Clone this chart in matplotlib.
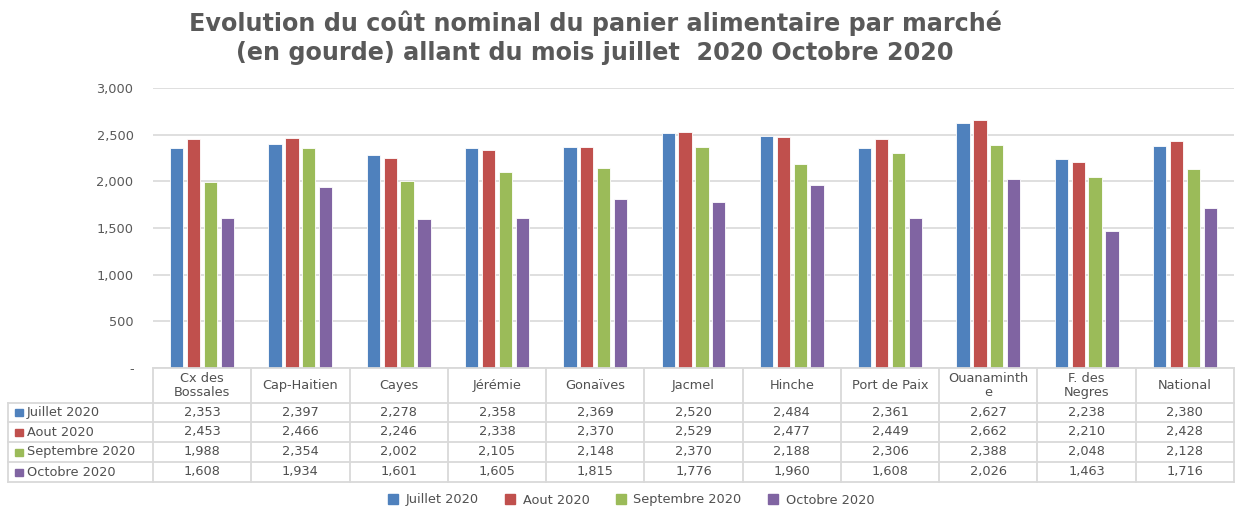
import matplotlib
matplotlib.use("Agg")
import matplotlib.pyplot as plt
from matplotlib.lines import Line2D
from matplotlib.patches import Rectangle
import numpy as np

plt.rcParams['font.family'] = ['DejaVu Sans']

markets = ["Cx des\nBossales", "Cap-Haitien", "Cayes", "Jérémie", "Gonaïves", "Jacmel",
           "Hinche", "Port de Paix", "Ouanaminth\ne", "F. des\nNegres", "National"]
series_names = ["Juillet 2020", "Aout 2020", "Septembre 2020", "Octobre 2020"]
juillet = [2353, 2397, 2278, 2358, 2369, 2520, 2484, 2361, 2627, 2238, 2380]
aout = [2453, 2466, 2246, 2338, 2370, 2529, 2477, 2449, 2662, 2210, 2428]
septembre = [1988, 2354, 2002, 2105, 2148, 2370, 2188, 2306, 2388, 2048, 2128]
octobre = [1608, 1934, 1601, 1605, 1815, 1776, 1960, 1608, 2026, 1463, 1716]
yticks = [0, 500, 1000, 1500, 2000, 2500, 3000]
ytick_labels = ["-", "500", "1,000", "1,500", "2,000", "2,500", "3,000"]
title = "Evolution du coût nominal du panier alimentaire par marché\n(en gourde) allant du mois juillet  2020 Octobre 2020"

series = [juillet, aout, septembre, octobre]
colors = ["#4F81BD", "#C0504D", "#9BBB59", "#8064A2"]
txt_col = "#505050"
grid_col = "#D9D9D9"
fs = 9.3

W, H = 1239, 508
fig = plt.figure(figsize=(W / 100, H / 100), dpi=100)
x0, x1, ytop, ybot = 153, 1234, 88, 368
ax = fig.add_axes([x0 / W, 1 - ybot / H, (x1 - x0) / W, (ybot - ytop) / H])

n = len(markets)
x = np.arange(n)
bw = 0.135
step = 0.172
for i, (vals, c) in enumerate(zip(series, colors)):
    ax.bar(x + (i - 1.5) * step, vals, width=bw, color=c, edgecolor="white",
           linewidth=0.6, zorder=3)

ax.set_xlim(-0.5, n - 0.5)
ax.set_ylim(0, 3000)
ax.set_yticks(yticks)
ax.set_yticklabels(ytick_labels, fontsize=fs, color="#595959")
ax.tick_params(axis="y", length=0, pad=14)
ax.tick_params(axis="x", length=0, labelbottom=False)
ax.grid(axis="y", color=grid_col, linewidth=1.2, zorder=0)
for s in ax.spines.values():
    s.set_visible(False)

fig.suptitle(title, fontsize=17.2, fontweight="bold", color="#595959",
             x=595 / W, y=1 - 10 / H, va="top", linespacing=1.3)

# ---- data table drawn in pixel coordinates ----
def fx(px):
    return px / W

def fy(py):
    return 1 - py / H

row_bounds = [368, 403, 422, 442, 462, 482]
left_lbl = 8
colw = (x1 - x0) / n
line_kw = dict(color=grid_col, linewidth=1.3, transform=fig.transFigure)

fig.add_artist(Line2D([fx(x0), fx(x1)], [fy(row_bounds[0])] * 2, **line_kw))
for yb in row_bounds[1:]:
    fig.add_artist(Line2D([fx(left_lbl), fx(x1)], [fy(yb)] * 2, **line_kw))
fig.add_artist(Line2D([fx(left_lbl)] * 2, [fy(row_bounds[1]), fy(row_bounds[-1])], **line_kw))
for j in range(n + 1):
    xp = x0 + j * colw
    fig.add_artist(Line2D([fx(xp)] * 2, [fy(row_bounds[0]), fy(row_bounds[-1])], **line_kw))

hy = (row_bounds[0] + row_bounds[1]) / 2
for j, m in enumerate(markets):
    fig.text(fx(x0 + (j + 0.5) * colw), fy(hy), m, ha="center", va="center",
             fontsize=fs, color=txt_col, linespacing=1.05)

for r, (name, vals, c) in enumerate(zip(series_names, series, colors)):
    cy = (row_bounds[r + 1] + row_bounds[r + 2]) / 2
    fig.add_artist(Rectangle((fx(15), fy(cy + 3.5)), 8 / W, 7 / H, color=c,
                             transform=fig.transFigure))
    fig.text(fx(27), fy(cy), name, ha="left", va="center", fontsize=fs, color=txt_col)
    for j, v in enumerate(vals):
        fig.text(fx(x0 + (j + 0.5) * colw), fy(cy), f"{v:,}", ha="center",
                 va="center", fontsize=fs, color=txt_col)

handles = [Line2D([], [], marker="s", linestyle="none", markersize=6.5,
                  markerfacecolor=c, markeredgecolor=c) for c in colors]
fig.legend(handles, series_names, loc="center", bbox_to_anchor=(627 / W, fy(500)),
           ncol=4, frameon=False, fontsize=fs, handletextpad=0.0, columnspacing=1.4,
           labelcolor=txt_col)

fig.savefig("out.png", dpi=100, facecolor="white")
